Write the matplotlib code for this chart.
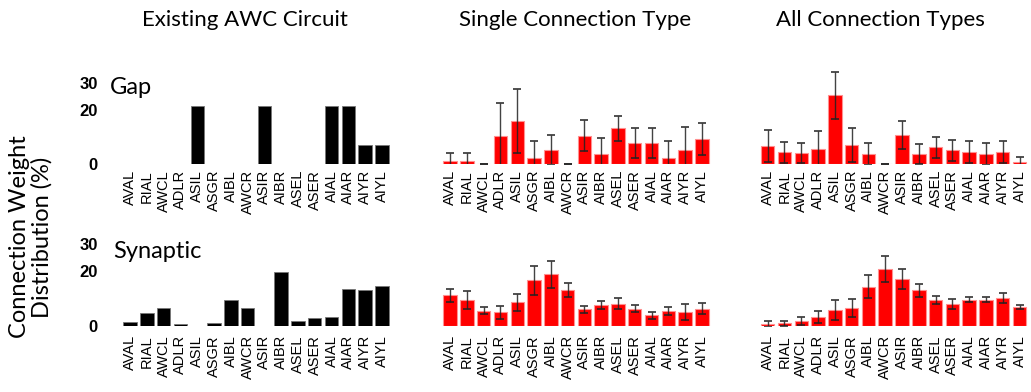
import matplotlib
matplotlib.use('Agg')
import matplotlib.pyplot as plt

neurons = ['AVAL', 'RIAL', 'AWCL', 'ADLR', 'ASIL', 'ASGR', 'AIBL', 'AWCR',
           'ASIR', 'AIBR', 'ASEL', 'ASER', 'AIAL', 'AIAR', 'AIYR', 'AIYL']

# existing AWC circuit (%)
exist_gap = [0, 0, 0, 0, 21.4, 0, 0, 0, 21.4, 0, 0, 0, 21.4, 21.4, 7.1, 7.1]
exist_syn = [1.25, 4.5, 6.3, 0.7, 0, 1.1, 9.5, 6.3, 0, 19.7, 1.8, 2.9, 3.3, 13.6, 12.9, 14.4]

# single connection type, mean and sd
single_gap = [1.1, 1.1, 0, 10.5, 15.9, 2.3, 5.1, 0, 10.5, 3.8, 13.2, 7.75, 7.75, 2.3, 5.1, 9.2]
single_gap_err = [3.1, 3.1, 0, 12.0, 11.9, 6.2, 5.6, 0, 5.8, 5.9, 4.6, 5.5, 5.5, 6.2, 8.7, 5.9]
single_syn = [11.1, 9.3, 5.5, 4.8, 8.5, 16.6, 18.8, 13.0, 5.9, 7.5, 8.1, 6.2, 3.8, 5.5, 5.0, 6.2]
single_syn_err = [2.5, 3.4, 1.4, 2.4, 3.0, 5.5, 5.0, 2.5, 1.2, 1.6, 2.2, 1.4, 1.3, 1.5, 2.9, 2.0]

# all connection types, mean and sd
all_gap = [6.7, 4.3, 4.2, 5.5, 25.3, 7.1, 3.8, 0, 10.7, 3.7, 6.1, 5.0, 4.4, 3.7, 4.4, 0.6]
all_gap_err = [6.0, 3.8, 3.7, 6.6, 8.6, 6.2, 4.1, 0, 5.1, 3.7, 3.9, 3.9, 4.1, 4.2, 4.1, 1.9]
all_syn = [0.4, 0.9, 1.6, 3.1, 5.7, 6.4, 14.3, 20.8, 17.1, 12.9, 9.5, 7.9, 9.5, 9.5, 10.1, 6.8]
all_syn_err = [1.1, 0.9, 1.5, 2.1, 3.6, 3.3, 4.3, 4.8, 3.6, 2.4, 1.4, 1.8, 1.0, 0.9, 1.8, 0.8]

col_titles = ['Existing AWC Circuit', 'Single Connection Type', 'All Connection Types']
row_names = ['Gap', 'Synaptic']

W, H = 1031, 392
fig = plt.figure(figsize=(W / 100, H / 100), dpi=100)

col_left = [120, 440, 757.6]   # px
col_w = 272
row_base = [164, 325.5]        # baseline px from top
ax_h = 95
label_pad = [4.3, 7.0]
name_pos = [(110, 88), (113, 252)]

panels = [
    [(exist_gap, None), (single_gap, single_gap_err), (all_gap, all_gap_err)],
    [(exist_syn, None), (single_syn, single_syn_err), (all_syn, all_syn_err)],
]

x = list(range(len(neurons)))
for r in range(2):
    for c in range(3):
        ax = fig.add_axes([col_left[c] / W, (H - row_base[r]) / H, col_w / W, ax_h / H])
        vals, err = panels[r][c]
        if err is None:
            ax.bar(x, vals, width=0.8, color='black', edgecolor='#777777', linewidth=0.6)
        else:
            ax.bar(x, vals, width=0.8, color='#ff0000', edgecolor='#ff9090', linewidth=0.8)
            ax.errorbar(x, vals, yerr=err, fmt='none', ecolor='#222222',
                        elinewidth=1.0, capsize=3, capthick=1.3, alpha=0.85)
        ax.set_xlim(-0.6, 15.6)
        ax.set_ylim(0, 35)
        for s in ax.spines.values():
            s.set_visible(False)
        ax.set_xticks(x)
        ax.set_xticklabels(neurons, rotation=90, fontsize=10.5, family='Liberation Sans')
        ax.tick_params(axis='x', length=0, pad=label_pad[r])
        if c == 0:
            ax.set_yticks([0, 20, 30])
            ax.set_yticklabels(['0', '20', '30'], fontsize=12, fontweight='bold',
                               family='Liberation Sans')
            ax.tick_params(axis='y', length=0, pad=16)
        else:
            ax.set_yticks([])
        ax.patch.set_visible(False)

for (nx, ny), name in zip(name_pos, row_names):
    fig.text(nx / W, 1 - ny / H, name, fontsize=17, family='Lato', ha='left', va='center')

title_x = [245, 575, 880]
for tx, t in zip(title_x, col_titles):
    fig.text(tx / W, 1 - 20 / H, t, fontsize=16, family='Lato', ha='center', va='center')

fig.text(31 / W, 1 - 237 / H, 'Connection Weight\nDistribution (%)', rotation=90,
         fontsize=17, family='Lato', ha='center', va='center', linespacing=1.05)

fig.savefig('out.png', dpi=100)
